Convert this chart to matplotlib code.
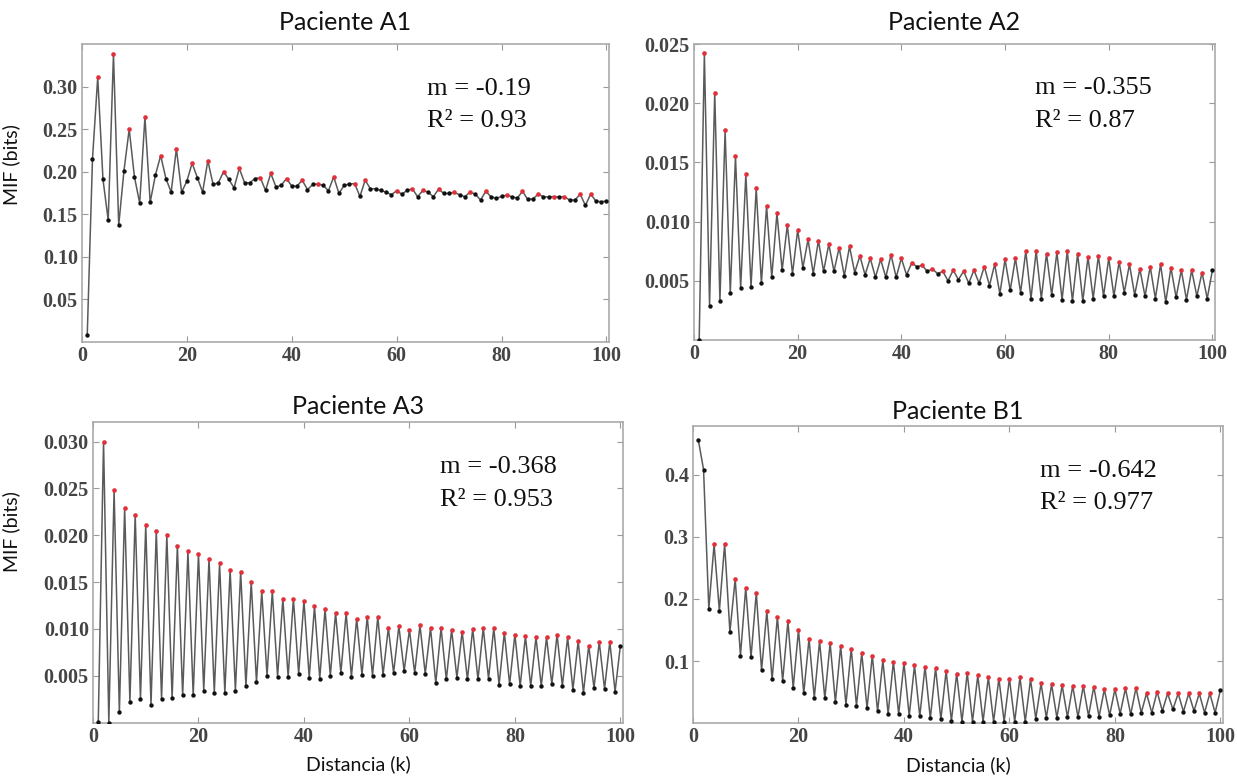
import numpy as np
import matplotlib
matplotlib.use("Agg")
import matplotlib.pyplot as plt

k = np.arange(1, 101)

# ---- Paciente A1 (full series, k = 1..100)
a1_values = [0.008, 0.215, 0.311, 0.191, 0.143, 0.338, 0.137, 0.201, 0.250, 0.194,
             0.163, 0.264, 0.164, 0.196, 0.219, 0.192, 0.176, 0.227, 0.176, 0.189,
             0.210, 0.193, 0.176, 0.213, 0.185, 0.187, 0.200, 0.191, 0.181, 0.204,
             0.187, 0.187, 0.192, 0.193, 0.178, 0.198, 0.182, 0.184, 0.192, 0.183,
             0.183, 0.190, 0.179, 0.185, 0.1855, 0.184, 0.1776, 0.194, 0.1745, 0.184,
             0.1855, 0.186, 0.171, 0.190, 0.180, 0.180, 0.178, 0.176, 0.173, 0.1776,
             0.1737, 0.178, 0.180, 0.1706, 0.178, 0.176, 0.1706, 0.1795, 0.1745, 0.1745,
             0.1757, 0.173, 0.1706, 0.176, 0.1737, 0.1667, 0.177, 0.1706, 0.1686, 0.171,
             0.1725, 0.1706, 0.169, 0.177, 0.1675, 0.168, 0.1737, 0.1706, 0.1704, 0.1708,
             0.1704, 0.1706, 0.1667, 0.1667, 0.1737, 0.1604, 0.1737, 0.1655, 0.1647, 0.1655]

# ---- Paciente A2 (odd k = troughs, even k = peaks)
a2_odd = [0.0000, 0.0029, 0.0033, 0.0040, 0.0044, 0.0045, 0.0048, 0.0053, 0.0059, 0.0056,
          0.0061, 0.0056, 0.0058, 0.0058, 0.0054, 0.0057, 0.0055, 0.0053, 0.0053, 0.0053,
          0.0055, 0.0062, 0.0058, 0.0056, 0.0050, 0.0051, 0.0048, 0.0048, 0.0046, 0.0039,
          0.0042, 0.0040, 0.0035, 0.0035, 0.0038, 0.0034, 0.0033, 0.0033, 0.0035, 0.0037,
          0.0037, 0.0040, 0.0038, 0.0037, 0.0035, 0.0032, 0.0036, 0.0034, 0.0037, 0.0035]
a2_even = [0.0242, 0.0209, 0.0177, 0.0155, 0.0140, 0.0128, 0.0113, 0.0107, 0.0097, 0.0093,
           0.0085, 0.0084, 0.0081, 0.0078, 0.0079, 0.0071, 0.0069, 0.0068, 0.0072, 0.0069,
           0.0065, 0.0063, 0.0060, 0.0058, 0.0059, 0.0058, 0.0059, 0.0062, 0.0064, 0.0068,
           0.0069, 0.0075, 0.0075, 0.0073, 0.0074, 0.0075, 0.0073, 0.0070, 0.0071, 0.0069,
           0.0066, 0.0064, 0.0060, 0.0062, 0.0064, 0.0061, 0.0059, 0.0059, 0.0057, 0.0059]

# ---- Paciente A3
a3_odd = [0.0001, 0.0000, 0.0011, 0.0022, 0.0025, 0.0019, 0.0025, 0.0026, 0.0029, 0.0029,
          0.0034, 0.0032, 0.0032, 0.0034, 0.0039, 0.0043, 0.0050, 0.0049, 0.0049, 0.0052,
          0.0048, 0.0047, 0.0050, 0.0053, 0.0049, 0.0051, 0.0050, 0.0051, 0.0053, 0.0055,
          0.0053, 0.0052, 0.0042, 0.0046, 0.0048, 0.0046, 0.0046, 0.0047, 0.0040, 0.0041,
          0.0039, 0.0039, 0.0039, 0.0041, 0.0039, 0.0035, 0.0032, 0.0037, 0.0036, 0.0033]
a3_even = [0.0300, 0.0248, 0.0229, 0.0222, 0.0211, 0.0205, 0.0200, 0.0189, 0.0183, 0.0180,
           0.0175, 0.0170, 0.0163, 0.0161, 0.0150, 0.0140, 0.0140, 0.0132, 0.0132, 0.0130,
           0.0124, 0.0121, 0.0117, 0.0117, 0.0111, 0.0113, 0.0113, 0.0101, 0.0103, 0.0099,
           0.0104, 0.0101, 0.0101, 0.0099, 0.0097, 0.0100, 0.0101, 0.0101, 0.0096, 0.0094,
           0.0092, 0.0091, 0.0091, 0.0094, 0.0091, 0.0087, 0.0082, 0.0086, 0.0086, 0.0082]

# ---- Paciente B1
b1_odd = [0.456, 0.184, 0.181, 0.147, 0.109, 0.106, 0.0855, 0.0705, 0.068, 0.057,
          0.048, 0.041, 0.040, 0.034, 0.030, 0.028, 0.024, 0.019, 0.0155, 0.0145,
          0.012, 0.011, 0.008, 0.0064, 0.0037, 0.0027, 0.0027, 0.0027, 0.0027, 0.0027,
          0.0027, 0.0027, 0.0075, 0.009, 0.009, 0.010, 0.010, 0.0117, 0.0107, 0.0128,
          0.0155, 0.0144, 0.017, 0.017, 0.0198, 0.0224, 0.0187, 0.0198, 0.017, 0.017]
b1_even = [0.408, 0.288, 0.288, 0.232, 0.218, 0.210, 0.180, 0.171, 0.164, 0.150,
           0.136, 0.132, 0.129, 0.124, 0.120, 0.113, 0.109, 0.101, 0.099, 0.097,
           0.093, 0.091, 0.089, 0.084, 0.080, 0.081, 0.077, 0.074, 0.072, 0.072,
           0.074, 0.0705, 0.064, 0.0625, 0.061, 0.060, 0.060, 0.059, 0.0545, 0.0545,
           0.056, 0.057, 0.048, 0.051, 0.048, 0.048, 0.048, 0.048, 0.048, 0.053]

titles = ["Paciente A1", "Paciente A2", "Paciente A3", "Paciente B1"]
slopes = ["-0.19", "-0.355", "-0.368", "-0.642"]
r2s = ["0.93", "0.87", "0.953", "0.977"]
xticks = [0, 20, 40, 60, 80, 100]
yticks_list = [[0.05, 0.10, 0.15, 0.20, 0.25, 0.30],
               [0.005, 0.010, 0.015, 0.020, 0.025],
               [0.005, 0.010, 0.015, 0.020, 0.025, 0.030],
               [0.1, 0.2, 0.3, 0.4]]
yfmt = ["{:.2f}", "{:.3f}", "{:.3f}", "{:.1f}"]
ylims = [(0, 0.35), (0, 0.025), (0, 0.0321), (0, 0.478)]


def interleave(odd, even):
    out = np.empty(100)
    out[0::2] = odd
    out[1::2] = even
    return out


series = [np.array(a1_values), interleave(a2_odd, a2_even),
          interleave(a3_odd, a3_even), interleave(b1_odd, b1_even)]

W, H = 1237, 778
fig = plt.figure(figsize=(W / 100, H / 100), dpi=100)
boxes = [(82, 44, 609, 342), (694, 44, 1215, 340),
         (93, 422, 623, 722.5), (693, 426, 1223, 723.3)]
title_pads = [10, 10, 6, 5]

sans = ["Lato", "DejaVu Sans"]
serif = ["Liberation Serif", "DejaVu Serif"]

for i, (l, t, r, b) in enumerate(boxes):
    ax = fig.add_axes([l / W, 1 - b / H, (r - l) / W, (b - t) / H])
    y = series[i]
    ax.plot(k, y, color="#5a5a5a", lw=1.1, zorder=2)
    peak = np.zeros(100, dtype=bool)
    peak[1:-1] = (y[1:-1] > y[:-2]) & (y[1:-1] > y[2:])
    ax.scatter(k[~peak], y[~peak], s=10, color="#111111", zorder=3, linewidths=0)
    ax.scatter(k[peak], y[peak], s=11, color="#e0303a", zorder=3, linewidths=0)
    ax.set_xlim(0, 100.5)
    ax.set_ylim(*ylims[i])
    ax.set_xticks(xticks)
    ax.set_xticklabels([str(v) for v in xticks], family=serif, fontsize=14.5,
                       color="#444444", fontweight="bold")
    ax.set_yticks(yticks_list[i])
    ax.set_yticklabels([yfmt[i].format(v) for v in yticks_list[i]], family=serif,
                       fontsize=14.5, color="#444444", fontweight="bold")
    ax.tick_params(direction="in", top=True, right=True, length=4, width=0.8,
                   color="#999999", pad=3)
    for s in ax.spines.values():
        s.set_color("#aaaaaa")
        s.set_linewidth(1.2)
    ax.set_title(titles[i], family=sans, fontsize=18, color="#111111",
                 pad=title_pads[i])
    ax.text(0.655, 0.85, "m = " + slopes[i], transform=ax.transAxes, family=serif,
            fontsize=19, color="#111111", va="center", ha="left")
    ax.text(0.655, 0.74, "R² = " + r2s[i], transform=ax.transAxes, family=serif,
            fontsize=19, color="#111111", va="center", ha="left")
    if i in (0, 2):
        ax.set_ylabel("MIF (bits)", family=sans, fontsize=14, color="#111111")
        ax.yaxis.set_label_coords(-0.118 if i == 0 else -0.138, 0.594 if i == 0 else 0.635)
    if i in (2, 3):
        ax.set_xlabel("Distancia (k)", family=sans, fontsize=14, color="#111111")
        ax.xaxis.set_label_coords(0.5, -0.11)

fig.savefig("out.png", dpi=100, facecolor="white")
